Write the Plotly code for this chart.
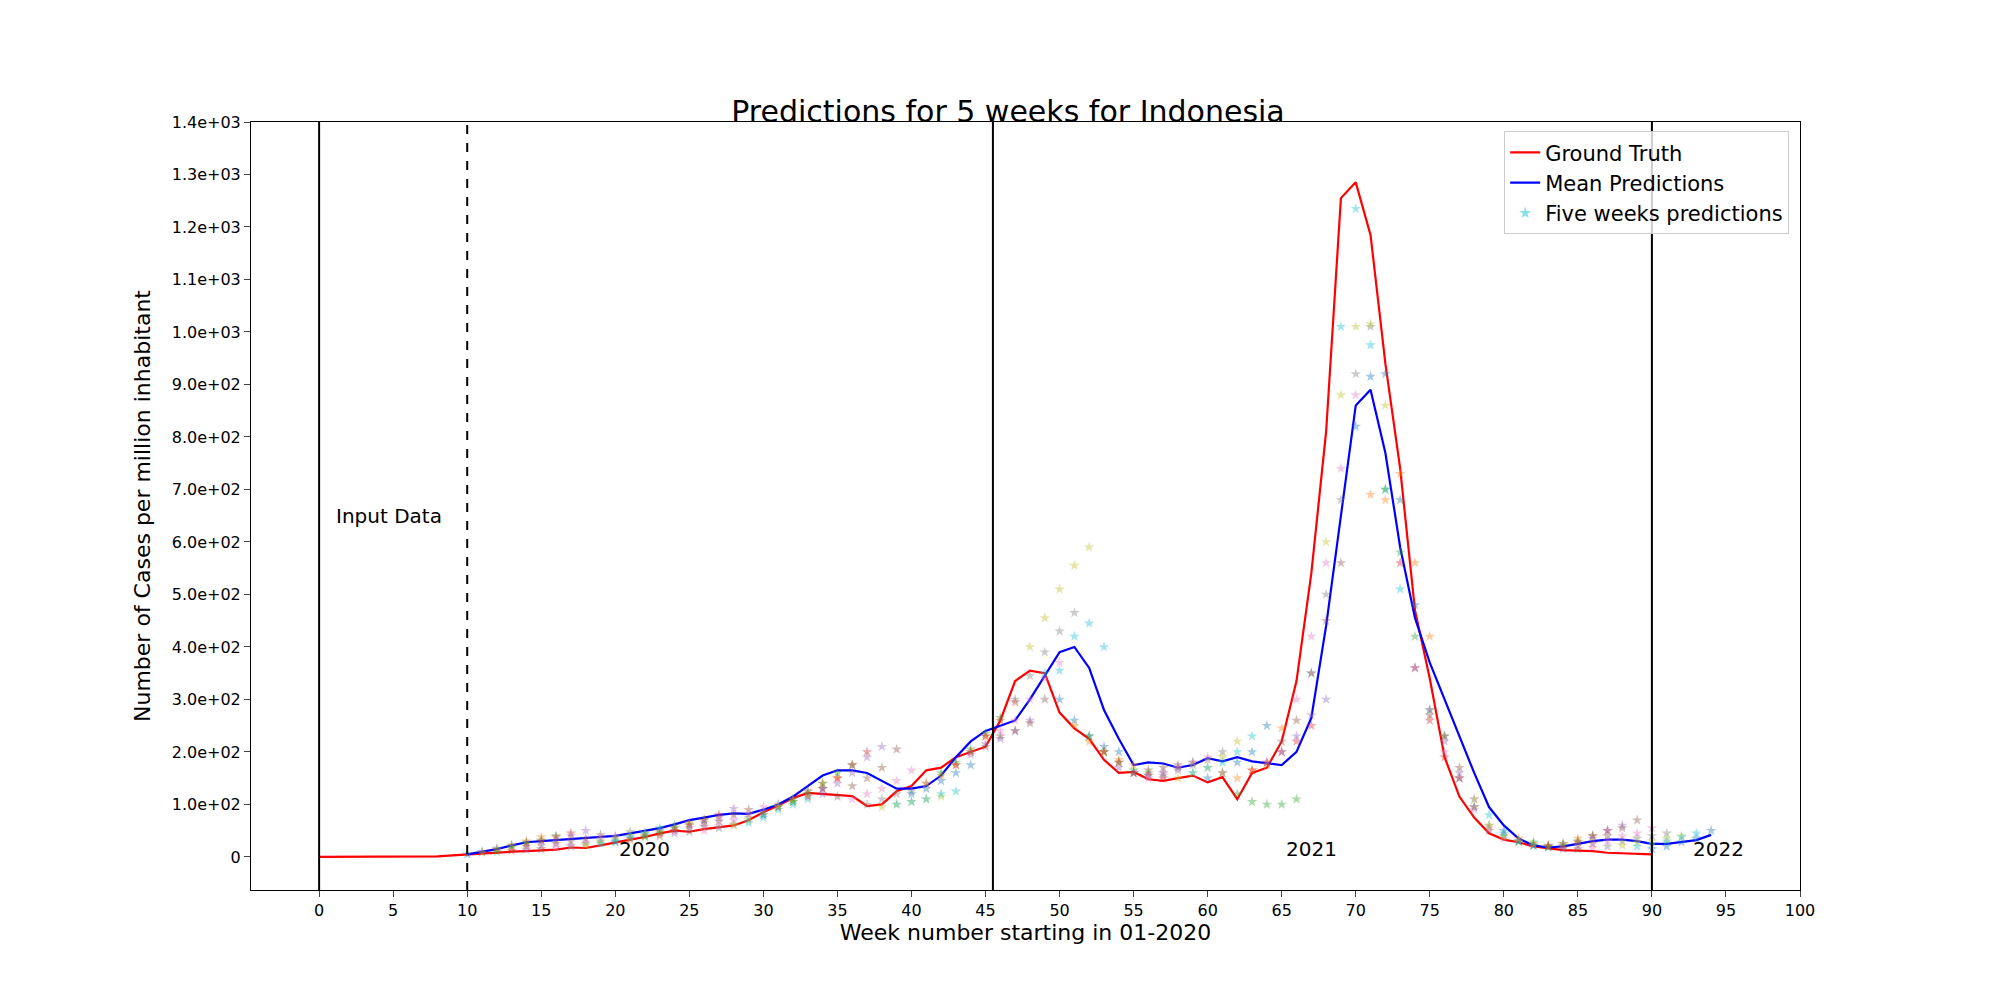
import plotly.graph_objects as go

weeks_truth = list(range(0, 91))
truth = [0, 0, 0, 0, 0, 0, 0, 0, 1, 3, 5, 7, 9, 10, 11, 12, 14, 18, 17, 22,
         28, 33, 38, 45, 50, 48, 53, 57, 60, 70, 85, 98, 112, 122, 120, 118, 116, 97, 100, 125,
         135, 165, 170, 190, 200, 210, 260, 335, 355, 350, 275, 245, 225, 185, 160, 162, 148, 145, 150, 155,
         142, 152, 110, 160, 170, 220, 335, 540, 810, 1255, 1285, 1185, 940, 740, 470, 340, 190, 115, 75, 45,
         33, 28, 20, 17, 13, 12, 11, 8, 7, 6, 5]

weeks_mean = list(range(10, 95))
mean_pred = [5, 10, 15, 22, 28, 30, 32, 33, 35, 37, 40, 45, 50, 55, 62, 70, 75, 80, 83, 82,
             90, 100, 115, 135, 155, 165, 165, 160, 145, 130, 130, 135, 155, 190, 220, 240, 250, 260, 300, 345,
             390, 400, 360, 280, 225, 175, 180, 178, 170, 175, 188, 182, 190, 182, 178, 175, 200, 265, 440, 650,
             860, 890, 770, 590, 455, 370, 300, 230, 160, 95, 60, 35, 22, 18, 20, 25, 30, 33, 33, 30,
             25, 25, 28, 32, 42]

# five-week forecasts: origin week -> predictions for the next five weeks
forecasts = {
    9: [5, 10, 16, 22, 28], 10: [8, 14, 22, 30, 38], 11: [10, 18, 25, 32, 40],
    12: [12, 20, 30, 38, 45], 13: [14, 22, 30, 40, 50], 14: [15, 25, 30, 35, 42],
    15: [18, 22, 28, 35, 40], 16: [20, 25, 30, 38, 48], 17: [22, 28, 33, 40, 45],
    18: [25, 30, 38, 45, 55], 19: [28, 35, 42, 50, 60], 20: [32, 40, 48, 55, 65],
    21: [38, 45, 55, 62, 70], 22: [40, 50, 60, 70, 80], 23: [45, 55, 65, 75, 92],
    24: [48, 58, 68, 80, 90], 25: [50, 60, 70, 82, 95], 26: [55, 62, 75, 85, 100],
    27: [60, 70, 80, 95, 105], 28: [65, 75, 90, 100, 110], 29: [80, 95, 110, 125, 130],
    30: [95, 110, 125, 140, 150], 31: [105, 120, 140, 160, 175], 32: [115, 130, 150, 175, 200],
    33: [120, 140, 160, 190, 210], 34: [115, 135, 150, 170, 205], 35: [110, 120, 130, 145, 165],
    36: [100, 110, 120, 125, 140], 37: [95, 100, 105, 110, 115], 38: [100, 105, 110, 120, 125],
    39: [120, 130, 145, 160, 175], 40: [140, 155, 175, 200, 230], 41: [160, 180, 205, 235, 265],
    42: [175, 200, 230, 260, 295], 43: [195, 215, 225, 240, 260], 44: [210, 230, 240, 255, 300],
    45: [240, 260, 300, 340, 370], 46: [300, 345, 390, 430, 465], 47: [400, 455, 510, 555, 590],
    48: [350, 355, 420, 445, 400], 49: [300, 260, 230, 210, 200], 50: [250, 220, 200, 185, 175],
    51: [230, 200, 180, 165, 160], 52: [200, 180, 160, 155, 150], 53: [170, 160, 155, 160, 170],
    54: [160, 165, 170, 175, 180], 55: [150, 160, 170, 180, 190], 56: [155, 165, 175, 185, 200],
    57: [150, 160, 170, 190, 220], 58: [160, 170, 180, 200, 230], 59: [150, 160, 180, 200, 250],
    60: [160, 150, 165, 175, 245], 61: [120, 105, 100, 100, 110], 62: [165, 180, 200, 220, 250],
    63: [180, 200, 230, 270, 300], 64: [220, 260, 350, 450, 560], 65: [300, 420, 560, 740, 880],
    66: [350, 500, 680, 920, 1010], 67: [600, 880, 1010, 1015, 860], 68: [1010, 1235, 975, 700, 510],
    69: [820, 915, 920, 680, 480], 70: [690, 680, 730, 560, 420], 71: [700, 580, 420, 280, 230],
    72: [560, 360, 260, 190, 150], 73: [360, 280, 220, 160, 110], 74: [270, 230, 170, 95, 50],
    75: [200, 150, 90, 55, 35], 76: [150, 95, 60, 40, 30], 77: [110, 60, 40, 28, 22],
    78: [80, 45, 30, 22, 20], 79: [50, 30, 22, 18, 25], 80: [35, 25, 20, 25, 35],
    81: [28, 20, 22, 30, 40], 82: [22, 18, 28, 40, 50], 83: [15, 22, 35, 50, 60],
    84: [15, 25, 40, 55, 70], 85: [18, 30, 40, 45, 55], 86: [20, 30, 35, 40, 45],
    87: [22, 28, 30, 35, 40], 88: [20, 25, 30, 38, 45], 89: [15, 20, 28, 35, 50],
}

tab10 = ["31,119,180", "255,127,14", "44,160,44", "214,39,40", "148,103,189",
         "140,86,75", "227,119,194", "127,127,127", "188,189,34", "23,190,207"]

ytick_vals = [0, 100, 200, 300, 400, 500, 600, 700, 800, 900, 1000, 1100, 1200, 1300, 1400]
ytick_text = ["0", "1.0e+02", "2.0e+02", "3.0e+02", "4.0e+02", "5.0e+02", "6.0e+02", "7.0e+02",
              "8.0e+02", "9.0e+02", "1.0e+03", "1.1e+03", "1.2e+03", "1.3e+03", "1.4e+03"]
xtick_vals = list(range(0, 101, 5))

fig = go.Figure()

sx, sy, sc = [], [], []
for o, vals in forecasts.items():
    col = "rgba(%s,0.4)" % tab10[(o + 1) % 10]
    for k, v in enumerate(vals):
        sx.append(o + 1 + k)
        sy.append(v)
        sc.append(col)

fig.add_trace(go.Scatter(x=weeks_truth, y=truth, mode="lines", name="Ground Truth",
                         line=dict(color="red", width=2.2)))
fig.add_trace(go.Scatter(x=weeks_mean, y=mean_pred, mode="lines", name="Mean Predictions",
                         line=dict(color="blue", width=2.2)))
fig.add_trace(go.Scatter(x=sx, y=sy, mode="markers", showlegend=False,
                         marker=dict(symbol="star", size=8, color=sc, line=dict(width=0))))
fig.add_trace(go.Scatter(x=[None], y=[None], mode="markers", name="Five weeks predictions",
                         marker=dict(symbol="star", size=9, color="rgba(23,190,207,0.5)",
                                     line=dict(width=0))))

for xv, dash in [(0, "solid"), (10, "dash"), (45.5, "solid"), (90, "solid")]:
    fig.add_shape(type="line", x0=xv, x1=xv, y0=0, y1=1, xref="x", yref="paper",
                  line=dict(color="black", width=2, dash=dash))

for txt, xv, yv in [("Input Data", 1, 650), ("2020", 22, 15), ("2021", 67, 15), ("2022", 94.5, 15)]:
    fig.add_annotation(x=xv, y=yv, text=txt, showarrow=False, xanchor="left" if txt == "Input Data" else "center",
                       font=dict(size=20, color="black"))

fig.update_layout(
    width=2000, height=1000,
    paper_bgcolor="white", plot_bgcolor="white",
    font=dict(family="DejaVu Sans", color="black"),
    margin=dict(l=243, r=208, t=114, b=118),
    title=dict(text="Predictions for 5 weeks for Indonesia", x=0.5, xanchor="center",
               y=0.897, yanchor="middle", font=dict(size=30)),
    legend=dict(x=0.993, y=0.988, xanchor="right", yanchor="top", bgcolor="rgba(255,255,255,0.8)",
                bordercolor="#cccccc", borderwidth=1, font=dict(size=21)),
    xaxis=dict(range=[-4.6, 100], tickvals=xtick_vals, showgrid=False, zeroline=False,
               showline=True, linecolor="black", mirror=True, ticks="outside", ticklen=6,
               tickfont=dict(size=16), title=dict(text="Week number starting in 01-2020",
                                                   font=dict(size=22), standoff=4)),
    yaxis=dict(range=[-63, 1400], tickvals=ytick_vals, ticktext=ytick_text, showgrid=False,
               zeroline=False, showline=True, linecolor="black", mirror=True, ticks="outside",
               ticklen=6, tickfont=dict(size=16),
               title=dict(text="Number of Cases per million inhabitant", font=dict(size=22))),
)

fig.write_html("out.html")
